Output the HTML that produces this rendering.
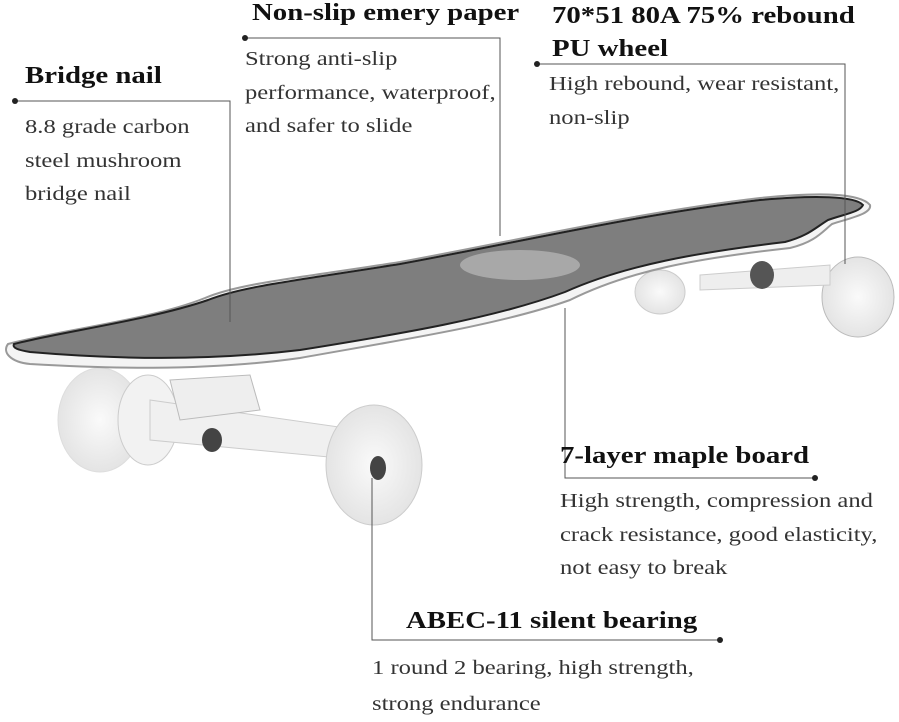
<!DOCTYPE html>
<html><head><meta charset="utf-8"><style>
body{margin:0;width:899px;height:719px;background:#fff;overflow:hidden;position:relative;font-family:"Liberation Serif",serif;color:#222}
.t{position:absolute;font-weight:bold;font-size:24px;white-space:nowrap;color:#111;transform:scaleX(1.2);transform-origin:left top}
.d{position:absolute;font-size:20.5px;line-height:33.5px;white-space:nowrap;color:#333;transform:scaleX(1.2);transform-origin:left top}
svg{position:absolute;left:0;top:0}
</style></head><body>
<svg width="899" height="719">
<defs><radialGradient id="w" cx="50%" cy="50%" r="50%"><stop offset="0" stop-color="#fafafa"/><stop offset="1" stop-color="#e4e4e4"/></radialGradient></defs>
<ellipse cx="660" cy="292" rx="25" ry="22" fill="url(#w)" stroke="#ccc"/>
<ellipse cx="858" cy="297" rx="36" ry="40" fill="url(#w)" stroke="#bbb"/>
<path d="M700 275 L830 265 L830 285 L700 290Z" fill="#eee" stroke="#ccc"/>
<ellipse cx="762" cy="275" rx="12" ry="14" fill="#555"/>
<ellipse cx="100" cy="420" rx="42" ry="52" fill="url(#w)" stroke="#ddd"/>
<ellipse cx="148" cy="420" rx="30" ry="45" fill="#f2f2f2" stroke="#ccc"/>
<path d="M150 400 L360 430 L360 460 L150 440Z" fill="#f0f0f0" stroke="#ccc"/>
<path d="M170 380 L250 375 L260 410 L180 420Z" fill="#eee" stroke="#bbb"/>
<ellipse cx="212" cy="440" rx="10" ry="12" fill="#444"/>
<ellipse cx="374" cy="465" rx="48" ry="60" fill="url(#w)" stroke="#ccc"/>
<ellipse cx="378" cy="468" rx="8" ry="12" fill="#444"/>
<path d="M8 344 C60 330 150 320 205 298 C240 283 300 278 400 262 C520 240 640 212 760 198 C820 192 860 193 870 205 C872 214 850 218 832 224 C822 232 815 242 790 248 C700 258 630 270 570 300 C500 325 400 340 300 358 C200 372 100 368 30 364 C10 362 2 352 8 344Z" fill="#f4f4f4" stroke="#999" stroke-width="2"/>
<path d="M14 344 C60 332 150 320 208 300 C243 286 300 280 400 264 C520 242 640 214 760 200 C815 195 855 196 863 205 C860 212 845 214 828 220 C815 228 808 236 785 242 C700 252 625 265 565 292 C495 318 400 334 300 350 C200 362 100 358 30 352 C18 350 12 348 14 344Z" fill="#7e7e7e" stroke="#222" stroke-width="2"/>
<ellipse cx="520" cy="265" rx="60" ry="15" fill="#bbb" opacity=".7"/>
<g stroke="#555" stroke-width="1" fill="none">
<path d="M15 101 H230 V322"/>
<path d="M245 38 H500 V236"/>
<path d="M537 64 H845 V264"/>
<path d="M565 308 V478 H815"/>
<path d="M372 478 V640 H720"/>
</g>
<g fill="#222"><circle cx="15" cy="101" r="3"/><circle cx="245" cy="38" r="3"/><circle cx="537" cy="64" r="3"/><circle cx="815" cy="478" r="3"/><circle cx="720" cy="640" r="3"/></g>
</svg>
<div class="t" style="left:25px;top:63px">Bridge nail</div>
<div class="d" style="left:25px;top:111px">8.8 grade carbon<br>steel mushroom<br>bridge nail</div>
<div class="t" style="left:252px;top:0px">Non-slip emery paper</div>
<div class="d" style="left:245px;top:43px">Strong anti-slip<br>performance, waterproof,<br>and safer to slide</div>
<div class="t" style="left:552px;top:0px;line-height:33px">70*51 80A 75% rebound<br>PU wheel</div>
<div class="d" style="left:549px;top:68px">High rebound, wear resistant,<br>non-slip</div>
<div class="t" style="left:560px;top:443px">7-layer maple board</div>
<div class="d" style="left:560px;top:485px">High strength, compression and<br>crack resistance, good elasticity,<br>not easy to break</div>
<div class="t" style="left:406px;top:608px">ABEC-11 silent bearing</div>
<div class="d" style="left:372px;top:650px;line-height:36px">1 round 2 bearing, high strength,<br>strong endurance</div>
</body></html>
